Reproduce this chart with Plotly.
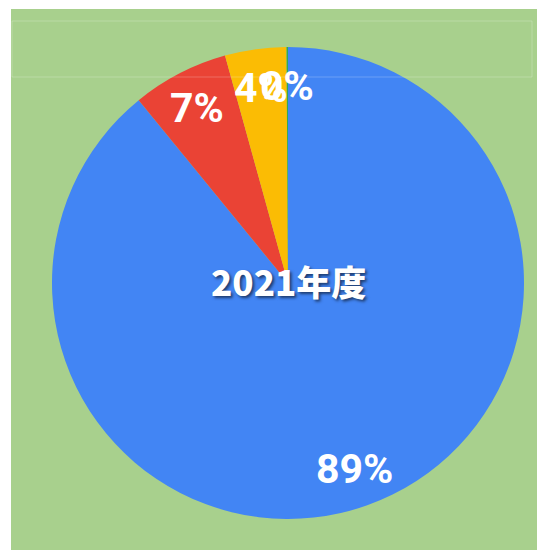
import math
import plotly.graph_objects as go

labels = ["A", "B", "C", "D"]
values = [89.1, 6.6, 4.2, 0.1]
colors = ["#4285F4", "#EA4335", "#FBBC04", "#34A853"]
center_title = "2021年度"

W, H = 545, 550
OFF = 8  # page body margin offset
cx, cy, R = 288 - OFF, 283 - OFF, 236

fig = go.Figure()
fig.add_trace(go.Pie(
    labels=labels, values=values, sort=False, direction="clockwise", rotation=0,
    marker=dict(colors=colors, line=dict(width=0)),
    textinfo="none", hoverinfo="label+percent", showlegend=False,
    domain=dict(x=[(cx - R) / W, (cx + R) / W], y=[(H - cy - R) / H, (H - cy + R) / H]),
))

total = sum(values)
cum = 0.0
annotations = []
for v in values:
    mid = (cum + v / 2) / total * 2 * math.pi
    cum += v
    r = 0.835 * R
    px = cx + r * math.sin(mid)
    py = cy - r * math.cos(mid)
    annotations.append(dict(
        x=px / W, y=(H - py) / H, xref="paper", yref="paper",
        text=f"{round(v / total * 100)}%", showarrow=False,
        font=dict(family="Roboto", size=41, color="white", weight="bold"),
        xanchor="center", yanchor="middle",
    ))
annotations.append(dict(
    x=cx / W, y=(H - (280 - OFF)) / H, xref="paper", yref="paper", text=center_title,
    showarrow=False, xanchor="center", yanchor="middle",
    font=dict(family="Noto Sans CJK JP", size=35, color="white", weight=900,
              shadow="2px 2px 3px rgba(0,0,0,0.55)"),
))

fig.update_layout(
    width=W, height=H, margin=dict(l=0, r=0, t=0, b=0),
    paper_bgcolor="white", plot_bgcolor="white",
    annotations=annotations,
    shapes=[
        dict(type="rect", xref="paper", yref="paper", x0=(11 - OFF) / W, x1=1, y0=0,
             y1=(H - (9 - OFF)) / H,
             fillcolor="#A8D08D", line=dict(width=0), layer="below"),
        dict(type="rect", xref="paper", yref="paper", x0=(12 - OFF) / W, x1=(532 - OFF) / W,
             y0=(H - (77 - OFF)) / H, y1=(H - (21 - OFF)) / H,
             fillcolor="rgba(0,0,0,0)", line=dict(width=1, color="rgba(255,255,255,0.22)"),
             layer="above"),
    ],
)
fig.write_html("out.html")
